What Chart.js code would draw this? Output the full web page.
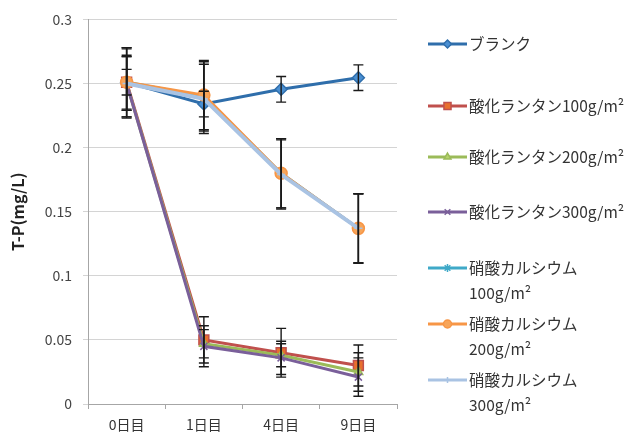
<!DOCTYPE html>
<html>
<head>
<meta charset="utf-8">
<script src="https://cdn.jsdelivr.net/npm/chart.js@4/dist/chart.umd.min.js"></script>
<style>
  html, body { margin: 0; padding: 0; background: #fff; }
  #wrap { width: 634px; height: 435px; }
</style>
</head>
<body>
<div id="wrap"><canvas id="c" width="634" height="435"></canvas></div>
<script>
// Sampling days
const categories = ['0日目', '1日目', '4日目', '9日目'];

// T-P (mg/L) per treatment
const blank   = [0.251, 0.234, 0.2455, 0.2545];
const la100   = [0.251, 0.050, 0.040, 0.030];
const la200   = [0.250, 0.047, 0.038, 0.025];
const la300   = [0.250, 0.045, 0.036, 0.021];
const ca100   = [0.251, 0.240, 0.180, 0.137];
const ca200   = [0.251, 0.241, 0.180, 0.137];
const ca300   = [0.250, 0.238, 0.179, 0.137];

// Standard deviations (error bars)
const blankErr = [0.010, 0.010, 0.010, 0.010];
const la100Err = [0.021, 0.018, 0.019, 0.016];
const la200Err = [0.021, 0.011, 0.009, 0.015];
const la300Err = [0.021, 0.016, 0.013, 0.015];
const ca100Err = [0.027, 0.027, 0.027, 0.027];
const ca200Err = [0.027, 0.027, 0.027, 0.027];
const ca300Err = [0.027, 0.027, 0.027, 0.027];

// Series names (legend)
const seriesNames = [
  ['ブランク'],
  ['酸化ランタン100g/m²'],
  ['酸化ランタン200g/m²'],
  ['酸化ランタン300g/m²'],
  ['硝酸カルシウム', '100g/m²'],
  ['硝酸カルシウム', '200g/m²'],
  ['硝酸カルシウム', '300g/m²']
];

// Y-axis tick labels
const yTicks = [0, 0.05, 0.1, 0.15, 0.2, 0.25, 0.3];
const yTickLabels = ['0', '0.05', '0.1', '0.15', '0.2', '0.25', '0.3'];

const FONT = '"Noto Sans CJK JP", "Noto Sans", sans-serif';

const styles = [
  { line: '#2f6eab', fill: '#4a8fd2', border: '#2f6eab', point: 'rectRot', r: 6, lr: 4, w: 3 },
  { line: '#c0504d', fill: '#e8702e', border: '#c0504d', point: 'rect', r: 7, lr: 5, w: 3 },
  { line: '#9bbb59', fill: '#b5d26a', border: '#9bbb59', point: 'triangle', r: 5, lr: 4, w: 3 },
  { line: '#7a5f9a', fill: '#7a5f9a', border: '#7a5f9a', point: 'crossRot', r: 5, lr: 4, w: 3 },
  { line: '#3fa9c8', fill: '#3fa9c8', border: '#3fa9c8', point: 'star', r: 5, lr: 4, w: 3 },
  { line: '#f79646', fill: '#f7a55a', border: '#f79646', point: 'circle', r: 6, lr: 4, w: 3 },
  { line: '#a9c3e3', fill: '#a9c3e3', border: '#a9c3e3', point: 'cross', r: 4, lr: 3, w: 4 }
];

const values = [blank, la100, la200, la300, ca100, ca200, ca300];
const errors = [blankErr, la100Err, la200Err, la300Err, ca100Err, ca200Err, ca300Err];

const datasets = values.map((v, i) => ({
  label: seriesNames[i].join(' '),
  data: v,
  err: errors[i],
  legendRadius: styles[i].lr,
  borderColor: styles[i].line,
  backgroundColor: styles[i].fill,
  pointBackgroundColor: styles[i].fill,
  pointBorderColor: styles[i].border,
  pointBorderWidth: 1.5,
  pointStyle: styles[i].point,
  pointRadius: styles[i].r,
  borderWidth: styles[i].w,
  tension: 0,
  // later series are painted over earlier ones
  order: values.length - i
}));

// Vertical error bars with caps, positioned through the chart scales
const errorBars = {
  id: 'errorBars',
  afterDatasetsDraw(chart) {
    const ctx = chart.ctx;
    const ys = chart.scales.y;
    ctx.save();
    ctx.strokeStyle = '#1a1a1a';
    ctx.lineWidth = 1.4;
    chart.data.datasets.forEach((ds, di) => {
      const meta = chart.getDatasetMeta(di);
      meta.data.forEach((pt, j) => {
        const e = ds.err[j];
        const v = ds.data[j];
        const x = pt.x;
        const yTop = ys.getPixelForValue(v + e);
        const yBot = ys.getPixelForValue(v - e);
        ctx.beginPath();
        ctx.moveTo(x, yTop); ctx.lineTo(x, yBot);
        ctx.moveTo(x - 5, yTop); ctx.lineTo(x + 5, yTop);
        ctx.moveTo(x - 5, yBot); ctx.lineTo(x + 5, yBot);
        ctx.stroke();
      });
    });
    ctx.restore();
  }
};

// Legend at the right with line + marker samples and wrapped names
const legendRows = [44, 106, 157, 212, 268, 324, 380];
const sideLegend = {
  id: 'sideLegend',
  afterDraw(chart) {
    const ctx = chart.ctx;
    ctx.save();
    chart.data.datasets.forEach((ds, i) => {
      const y = legendRows[i];
      ctx.strokeStyle = ds.borderColor;
      ctx.lineWidth = 3;
      ctx.beginPath();
      ctx.moveTo(428, y); ctx.lineTo(467, y);
      ctx.stroke();
      ctx.fillStyle = ds.pointBackgroundColor;
      ctx.strokeStyle = ds.pointBorderColor;
      ctx.lineWidth = 1.5;
      Chart.helpers.drawPoint(ctx, { pointStyle: ds.pointStyle, radius: ds.legendRadius, borderWidth: 1.5, rotation: 0 }, 447.5, y);
      ctx.fillStyle = '#333';
      ctx.font = '15.5px ' + FONT;
      ctx.textBaseline = 'middle';
      ctx.textAlign = 'left';
      seriesNames[i].forEach((t, k) => ctx.fillText(t, 469, y + k * 25));
    });
    ctx.restore();
  }
};

new Chart(document.getElementById('c'), {
  type: 'line',
  data: { labels: categories, datasets },
  plugins: [errorBars, sideLegend],
  options: {
    responsive: false,
    animation: false,
    devicePixelRatio: 1,
    layout: { padding: { left: 0, right: 237, top: 19, bottom: 0 } },
    plugins: { legend: { display: false }, tooltip: { enabled: false } },
    scales: {
      x: {
        offset: true,
        afterFit(s) { s.height = 31; },
        grid: { offset: true, drawOnChartArea: false, tickLength: 5, color: '#a6a6a6' },
        border: { color: '#a6a6a6' },
        ticks: { color: '#333', padding: 7, font: { family: FONT, size: 14 } }
      },
      y: {
        min: 0, max: 0.3,
        afterFit(s) { s.width = 88; },
        afterBuildTicks(s) { s.ticks = yTicks.map(v => ({ value: v })); },
        grid: { color: '#d4d4d4', tickLength: 5 },
        border: { color: '#a6a6a6' },
        ticks: {
          color: '#444', padding: 11,
          font: { family: FONT, size: 14 },
          callback: (v) => yTickLabels[yTicks.indexOf(v)] ?? ''
        },
        title: {
          display: true, text: 'T-P(mg/L)', color: '#222',
          font: { family: FONT, size: 16, weight: 'bold' },
          padding: { top: 8, bottom: 0 }
        }
      }
    }
  }
});
</script>
</body>
</html>
